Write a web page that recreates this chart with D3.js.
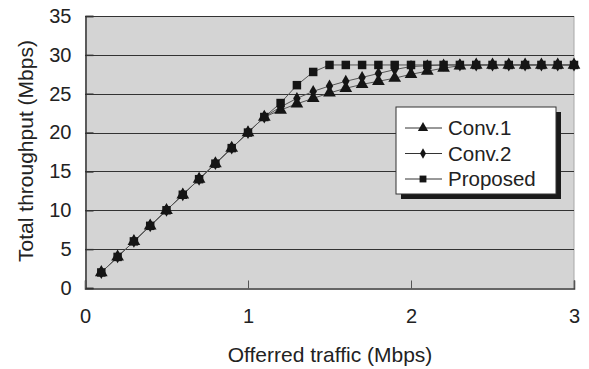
<!DOCTYPE html>
<html lang="en">
  <head>
    <meta charset="UTF-8" />
    <title>Throughput</title>
    <script src="https://d3js.org/d3.v7.min.js"></script>
    <style>
      body { margin: 0; background: #fff; }
      text { font-family: "Liberation Sans", Arial, sans-serif; fill: #222; }
    </style>
  </head>
  <body>
    <svg id="chart" width="589" height="369"></svg>
  </body>
  <script>
    const traffic = [0.1, 0.2, 0.3, 0.4, 0.5, 0.6, 0.7, 0.8, 0.9, 1.0,
      1.1, 1.2, 1.3, 1.4, 1.5, 1.6, 1.7, 1.8, 1.9, 2.0,
      2.1, 2.2, 2.3, 2.4, 2.5, 2.6, 2.7, 2.8, 2.9, 3.0];
    const conv1 = [2, 4, 6, 8, 10, 12, 14, 16, 18, 20,
      22, 22.9, 23.7, 24.4, 25.1, 25.7, 26.2, 26.6, 27.0, 27.5,
      27.9, 28.3, 28.6, 28.7, 28.7, 28.7, 28.7, 28.7, 28.7, 28.7];
    const conv2 = [2, 4, 6, 8, 10, 12, 14, 16, 18, 20,
      22, 23.3, 24.4, 25.3, 26.0, 26.6, 27.1, 27.6, 28.1, 28.5,
      28.6, 28.7, 28.7, 28.7, 28.7, 28.7, 28.7, 28.7, 28.7, 28.7];
    const proposed = [2, 4, 6, 8, 10, 12, 14, 16, 18, 20,
      22, 23.8, 26.1, 27.8, 28.7, 28.7, 28.7, 28.7, 28.7, 28.7,
      28.7, 28.7, 28.7, 28.7, 28.7, 28.7, 28.7, 28.7, 28.7, 28.7];
    const seriesNames = ["Conv.1", "Conv.2", "Proposed"];
    const xTicks = [0, 1, 2, 3];
    const yTicks = [0, 5, 10, 15, 20, 25, 30, 35];

    const svg = d3.select("#chart");
    const plotL = 85, plotR = 574, plotT = 16, plotB = 288;
    const x = d3.scaleLinear().domain([0, 3]).range([plotL, plotR]);
    const y = d3.scaleLinear().domain([0, 35]).range([plotB, plotT]);

    // plot background
    svg.append("rect")
      .attr("x", plotL).attr("y", plotT)
      .attr("width", plotR - plotL).attr("height", plotB - plotT)
      .attr("fill", "#d4d4d4");

    // right border (light)
    svg.append("line")
      .attr("x1", plotR).attr("x2", plotR)
      .attr("y1", plotT).attr("y2", plotB)
      .attr("stroke", "#a8a8a8");

    // horizontal gridlines
    svg.append("g").selectAll("line")
      .data(yTicks.filter((d) => d > 0))
      .enter().append("line")
      .attr("x1", plotL).attr("x2", plotR)
      .attr("y1", (d) => Math.round(y(d)) + 0.5)
      .attr("y2", (d) => Math.round(y(d)) + 0.5)
      .attr("stroke", "#333").attr("stroke-width", 1);

    // y axis
    const yAxis = svg.append("g")
      .attr("transform", `translate(${plotL + 0.5},0)`)
      .call(d3.axisLeft(y).tickValues(yTicks).tickSize(-8).tickPadding(14));
    yAxis.select(".domain").attr("stroke", "#333").attr("stroke-width", 1.5);
    yAxis.selectAll(".tick line").attr("stroke", "#333").attr("stroke-width", 1.5);
    yAxis.selectAll("text").attr("font-size", 20).attr("fill", "#222")
      .attr("font-family", "Liberation Sans, Arial, sans-serif");

    // x axis
    const xAxis = svg.append("g")
      .attr("transform", `translate(0,${plotB + 0.5})`)
      .call(d3.axisBottom(x).tickValues(xTicks).tickFormat(d3.format("d"))
        .tickSize(-8).tickPadding(20));
    xAxis.select(".domain").attr("stroke", "#333").attr("stroke-width", 1.5);
    xAxis.selectAll(".tick line").attr("stroke", "#555").attr("stroke-width", 1);
    xAxis.selectAll("text").attr("font-size", 20).attr("fill", "#222")
      .attr("font-family", "Liberation Sans, Arial, sans-serif");

    // axis titles
    svg.append("text")
      .attr("x", 330).attr("y", 362)
      .attr("text-anchor", "middle").attr("font-size", 21)
      .text("Offerred traffic (Mbps)");
    svg.append("text")
      .attr("transform", "translate(33,151) rotate(-90)")
      .attr("text-anchor", "middle").attr("font-size", 21)
      .text("Total throughput (Mbps)");

    const series = [
      { name: seriesNames[0], values: conv1, symbol: d3.symbolTriangle, size: 70 },
      { name: seriesNames[1], values: conv2, symbol: d3.symbolDiamond, size: 48 },
      { name: seriesNames[2], values: proposed, symbol: d3.symbolSquare, size: 72 },
    ];

    const line = d3.line().x((d) => x(d[0])).y((d) => y(d[1]));

    series.forEach((s) => {
      const pts = traffic.map((t, i) => [t, s.values[i]]);
      svg.append("path")
        .datum(pts)
        .attr("d", line)
        .attr("fill", "none")
        .attr("stroke", "#555")
        .attr("stroke-width", 1);
    });

    series.forEach((s) => {
      const pts = traffic.map((t, i) => [t, s.values[i]]);
      svg.append("g").selectAll("path")
        .data(pts)
        .enter().append("path")
        .attr("d", d3.symbol().type(s.symbol).size(s.size))
        .attr("transform", (d) => `translate(${x(d[0])},${y(d[1])})`)
        .attr("fill", "#151515");
    });

    // legend
    const lg = svg.append("g");
    const lx = 396, ly = 107, lw = 160, lh = 87;
    lg.append("rect")
      .attr("x", lx + 5).attr("y", ly + 5)
      .attr("width", lw).attr("height", lh)
      .attr("fill", "#1a1a1a");
    lg.append("rect")
      .attr("x", lx).attr("y", ly)
      .attr("width", lw).attr("height", lh)
      .attr("fill", "#fff").attr("stroke", "#333").attr("stroke-width", 1);
    series.forEach((s, i) => {
      const ry = 128 + i * 25.5;
      lg.append("line")
        .attr("x1", 405).attr("x2", 442)
        .attr("y1", ry).attr("y2", ry)
        .attr("stroke", "#333");
      lg.append("path")
        .attr("d", d3.symbol().type(s.symbol).size(s.size * 0.65))
        .attr("transform", `translate(423,${ry})`)
        .attr("fill", "#151515");
      lg.append("text")
        .attr("x", 448).attr("y", ry + 7)
        .attr("font-size", 20.5)
        .text(s.name);
    });
  </script>
</html>
